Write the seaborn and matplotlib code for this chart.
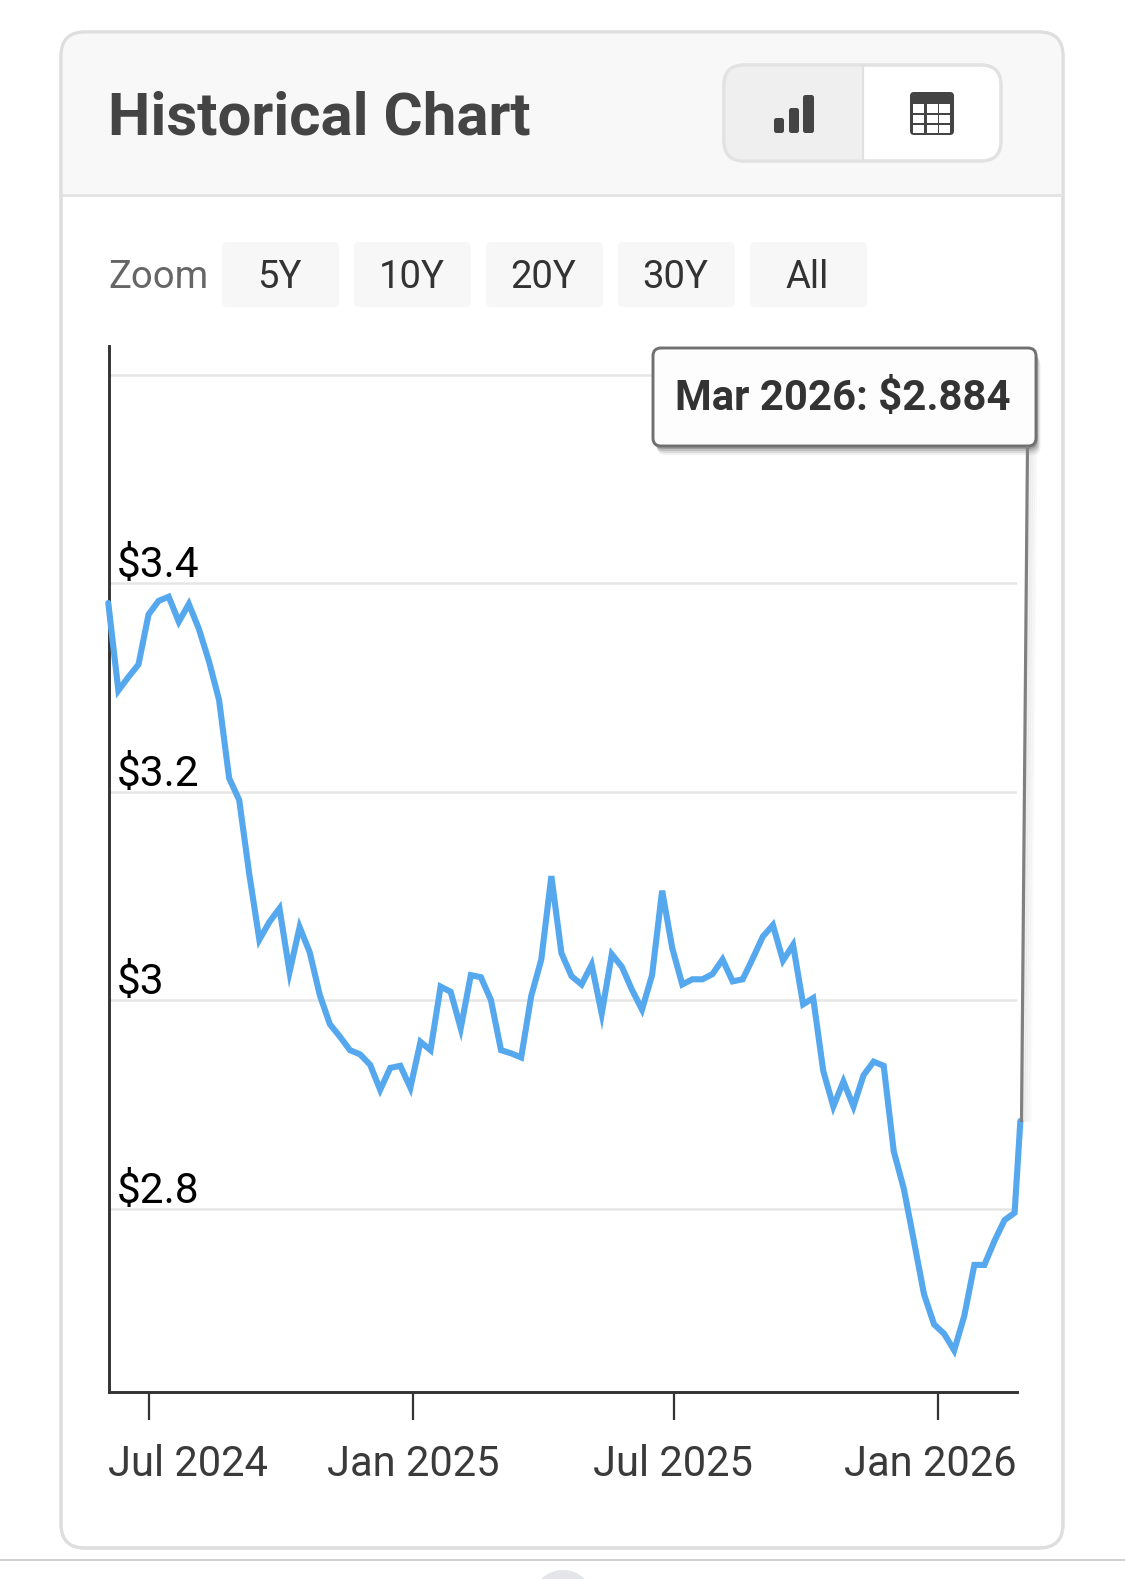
import matplotlib
matplotlib.use("Agg")
import matplotlib.pyplot as plt
import matplotlib.transforms as mtrans
from matplotlib.patches import FancyBboxPatch, Rectangle, Ellipse
import seaborn as sns
import pandas as pd

prices = [3.381, 3.297, 3.310, 3.322, 3.370, 3.383, 3.387, 3.363, 3.380, 3.356,
          3.325, 3.288, 3.213, 3.192, 3.121, 3.058, 3.075, 3.088, 3.027, 3.070,
          3.046, 3.005, 2.977, 2.965, 2.952, 2.948, 2.938, 2.914, 2.935, 2.937,
          2.916, 2.960, 2.952, 3.013, 3.008, 2.973, 3.024, 3.022, 3.000, 2.952,
          2.949, 2.945, 3.004, 3.039, 3.119, 3.045, 3.023, 3.015, 3.034, 2.987,
          3.044, 3.032, 3.010, 2.991, 3.024, 3.105, 3.050, 3.015, 3.020, 3.020,
          3.025, 3.039, 3.018, 3.020, 3.040, 3.061, 3.072, 3.038, 3.053, 2.996,
          3.002, 2.932, 2.898, 2.922, 2.898, 2.928, 2.941, 2.937, 2.855, 2.819,
          2.769, 2.718, 2.689, 2.680, 2.664, 2.697, 2.746, 2.746, 2.769, 2.789,
          2.796, 2.884]
weekly_start = "2024-06-03"
last_date = "2026-02-27"
x_tick_dates = ["2024-07-01", "2025-01-01", "2025-07-01", "2026-01-01"]
x_tick_labels = ["Jul 2024", "Jan 2025", "Jul 2025", "Jan 2026"]
y_ticks = [2.8, 3.0, 3.2, 3.4, 3.6]
y_tick_labels = ["$2.8", "$3", "$3.2", "$3.4", ""]
zoom_buttons = ["5Y", "10Y", "20Y", "30Y", "All"]
title_text = "Historical Chart"
tooltip_text = "Mar 2026: $2.884"

dates = list(pd.date_range(weekly_start, periods=len(prices) - 1, freq="7D")) + [pd.Timestamp(last_date)]
df = pd.DataFrame({"date": dates, "price": prices})

W, H = 1125, 1579
sns.set_theme(style="white")
plt.rcParams["font.family"] = ["Roboto", "DejaVu Sans"]
plt.rcParams["axes.unicode_minus"] = False

fig = plt.figure(figsize=(W / 100, H / 100), dpi=100, facecolor="white")


def overlay(z):
    a = fig.add_axes([0, 0, 1, 1], zorder=z)
    a.set_xlim(0, W)
    a.set_ylim(H, 0)
    a.axis("off")
    a.patch.set_alpha(0)
    return a


def rbox(a, x0, y0, x1, y1, r, **kw):
    a.add_patch(FancyBboxPatch((x0 + r, y0 + r), x1 - x0 - 2 * r, y1 - y0 - 2 * r,
                               boxstyle=f"round,pad={r},rounding_size={r}", **kw))


bg = overlay(0)
CARD = (61, 32, 1063, 1547)
rbox(bg, CARD[0], CARD[1], CARD[2], CARD[3] + 1, 24, fc="white", ec="#dedede", lw=2.2)
clip = FancyBboxPatch((CARD[0] + 24, CARD[1] + 24), CARD[2] - CARD[0] - 48, CARD[3] - CARD[1] - 48,
                      boxstyle="round,pad=24,rounding_size=24", fc="none", ec="none")
bg.add_patch(clip)
hdr = Rectangle((CARD[0], CARD[1]), CARD[2] - CARD[0], 162, fc="#f8f8f8", ec="none")
bg.add_patch(hdr)
hdr.set_clip_path(clip)
bg.plot([CARD[0], CARD[2]], [194.5, 194.5], color="#e2e2e2", lw=2, solid_capstyle="butt")
rbox(bg, CARD[0], CARD[1], CARD[2], CARD[3] + 1, 24, fc="none", ec="#dedede", lw=2.2)

bg.text(108.5, 134.5, title_text, fontsize=43.2, fontweight="bold", color="#444444", ha="left", va="baseline")

# view switch
rbox(bg, 724, 65, 1001, 161, 20, fc="white", ec="#e2e2e2", lw=2.2)
sw = Rectangle((724, 65), 139, 96, fc="#efefef", ec="none")
bg.add_patch(sw)
swclip = FancyBboxPatch((744, 85), 237, 56, boxstyle="round,pad=20,rounding_size=20", fc="none", ec="none")
bg.add_patch(swclip)
sw.set_clip_path(swclip)
rbox(bg, 724, 65, 1001, 161, 20, fc="none", ec="#e2e2e2", lw=2.2)
bg.plot([863, 863], [66, 160], color="#e0e0e0", lw=1.6)
for bx0, bx1, by0 in [(774, 784, 118), (789, 799, 108), (803, 814, 95)]:
    rbox(bg, bx0, by0, bx1, 133, 2.5, fc="#444444", ec="none")
# table icon
rbox(bg, 910, 92, 954, 135, 4, fc="#444444", ec="none")
for gx in [912.5, 926.5, 938.5]:
    for gy in [104, 114.5, 124.5]:
        bg.add_patch(Rectangle((gx, gy), 11, 8.5, fc="white", ec="none"))

# zoom row
bg.text(108, 288.5, "Zoom", fontsize=27.5, color="#666666", ha="left", va="baseline")
for i, lab in enumerate(zoom_buttons):
    x0 = 222 + i * 132
    rbox(bg, x0, 242, x0 + 117, 307, 5, fc="#f7f7f7", ec="none")
    bg.text(x0 + 57.5, 288.5, lab, fontsize=27.5, color="#333333", ha="center", va="baseline")

# page bottom
bg.plot([0, W], [1560, 1560], color="#cfcfcf", lw=1.4)
bg.add_patch(Ellipse((563, 1601), 62, 62, fc="#e4e5e9", ec="none"))

# main chart
AX_L, AX_R, AX_T, AX_B = 109, 1017, 346, 1392
ax = fig.add_axes([AX_L / W, 1 - AX_B / H, (AX_R - AX_L) / W, (AX_B - AX_T) / H], zorder=1)
ax.patch.set_alpha(0)
sns.lineplot(data=df, x="date", y="price", ax=ax, color="#56a8ee", linewidth=4.4,
             estimator=None, errorbar=None, clip_on=False, solid_joinstyle="miter",
             zorder=3)
ax.set_xlim(pd.Timestamp("2024-06-03 12:00"), pd.Timestamp("2026-02-24 16:00"))
ax.set_ylim(2.6241, 3.6275)
ax.set_xlabel("")
ax.set_ylabel("")
ax.set_xticks(pd.to_datetime(x_tick_dates))
ax.set_xticklabels(x_tick_labels, fontsize=30, color="#3a3a3a")
ax.set_yticks(y_ticks)
ax.set_yticklabels(y_tick_labels, fontsize=30.5, color="black", ha="left", va="bottom")
ax.tick_params(axis="y", length=0, pad=-5.4, left=True)
ax.tick_params(axis="x", length=20, width=1.6, color="#333333", pad=17.5, bottom=True)
ax.grid(axis="y", color="#e6e6e6", linewidth=1.8)
ax.grid(axis="x", visible=False)
ax.set_axisbelow(True)
for s in ["top", "right"]:
    ax.spines[s].set_visible(False)
for s in ["left", "bottom"]:
    ax.spines[s].set_visible(True)
    ax.spines[s].set_color("#333333")
    ax.spines[s].set_linewidth(2.1)

for lab, dx in zip(ax.get_xticklabels(), [39.5, -0.5, -1, -8.5]):
    lab.set_transform(lab.get_transform() + mtrans.ScaledTranslation(dx / 100, 0, fig.dpi_scale_trans))
for lab in ax.get_yticklabels():
    lab.set_transform(lab.get_transform() + mtrans.ScaledTranslation(0, -3 / 100, fig.dpi_scale_trans))

# tooltip
fg = overlay(2)
for off, alpha in [(9, 0.08), (7, 0.12), (5, 0.18), (3, 0.25)]:
    rbox(fg, 653 + off * 0.5, 348 + off, 1036 + off * 0.5, 446 + off, 8, fc="#444444", ec="none", alpha=alpha)
for off, alpha in [(9, 0.03), (7, 0.05), (5, 0.07), (3, 0.10)]:
    fg.plot([1027 + off, 1021 + off], [446, 1122], color="#777777", lw=2.2, alpha=alpha, solid_capstyle="butt")
fg.plot([1027.5, 1021.5], [446, 1122], color="#808080", lw=2.3, solid_capstyle="butt")
rbox(fg, 653, 348, 1036, 446, 8, fc="#fdfdfd", ec="#707070", lw=2.1)
fg.text(843, 409.5, tooltip_text, fontsize=30.2, fontweight="bold", color="#333333", ha="center", va="baseline")

fig.savefig("out.png", dpi=100, facecolor="white")
